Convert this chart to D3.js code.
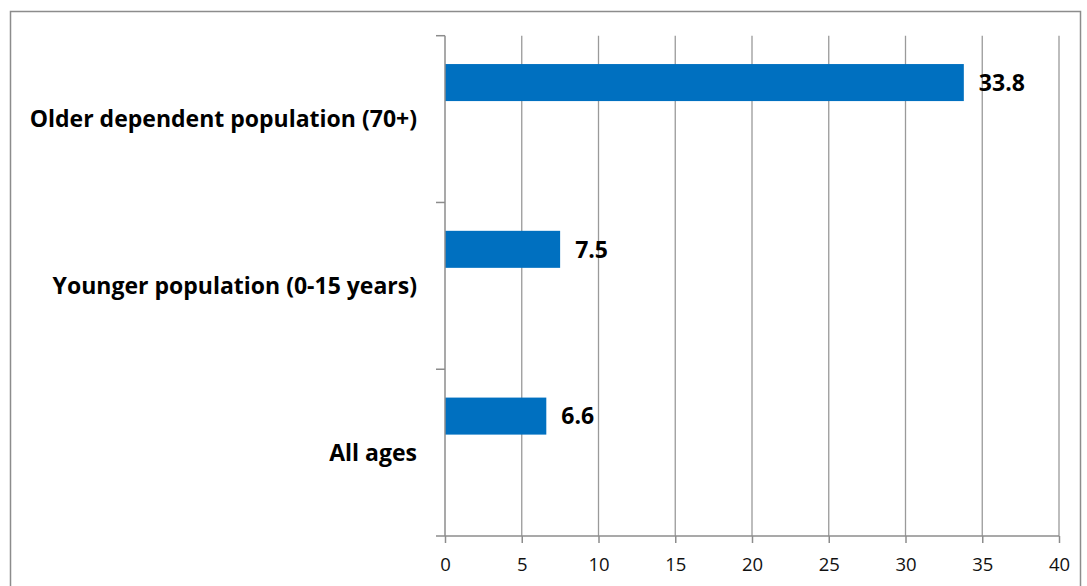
<!DOCTYPE html>
<html>
<head>
<meta charset="utf-8">
<script src="https://cdn.jsdelivr.net/npm/d3@7"></script>
<style>
  html, body { margin: 0; padding: 0; background: #fff; }
</style>
</head>
<body>
<div id="chart"></div>
<script>
// categories, top to bottom
var categories = ["Older dependent population (70+)", "Younger population (0-15 years)", "All ages"];
var values = [33.8, 7.5, 6.6];
var xTicks = [0, 5, 10, 15, 20, 25, 30, 35, 40];

var width = 1087,
    height = 586;

var svg = d3.select("#chart")
    .append("svg")
    .attr("width", width)
    .attr("height", height);

// outer frame
svg.append("rect")
    .attr("x", 10.5).attr("y", 11.5)
    .attr("width", 1070).attr("height", 600)
    .attr("fill", "none")
    .attr("stroke", "#8c8c8c")
    .attr("stroke-width", 1.5);

var plotLeft = 445, plotRight = 1059, plotTop = 35.7, plotBottom = 536;

var x = d3.scaleLinear().domain([0, 40]).range([plotLeft, plotRight]);
var y = d3.scaleBand().domain(categories).range([plotTop, plotBottom]).padding(0);

var g = svg.append("g");

// vertical grid lines
g.selectAll(".grid")
    .data(xTicks.slice(1))
    .enter().append("line")
    .attr("x1", function (d) { return x(d); })
    .attr("x2", function (d) { return x(d); })
    .attr("y1", plotTop).attr("y2", plotBottom)
    .attr("stroke", "#9a9a9a")
    .attr("stroke-width", 1.3);

// bars sit in the upper part of each band
var bw = y.bandwidth();
g.selectAll(".bar")
    .data(values)
    .enter().append("rect")
    .attr("x", x(0))
    .attr("y", function (d, i) { return y(categories[i]) + bw * 0.17; })
    .attr("width", function (d) { return x(d) - x(0); })
    .attr("height", bw * 0.222)
    .attr("fill", "#0070c0");

// value labels
g.selectAll(".val")
    .data(values)
    .enter().append("text")
    .attr("x", function (d) { return x(d) + 15; })
    .attr("y", function (d, i) { return y(categories[i]) + bw * 0.17 + bw * 0.111; })
    .attr("dy", "0.36em")
    .attr("font-family", "'Open Sans', sans-serif")
    .attr("font-weight", "bold")
    .attr("font-size", 23)
    .attr("fill", "#000")
    .text(function (d) { return d.toFixed(1); });

// x axis
var xAxis = d3.axisBottom(x).tickValues(xTicks).tickSize(7).tickPadding(15);
var xa = svg.append("g")
    .attr("transform", "translate(0," + plotBottom + ")")
    .call(xAxis);
xa.select(".domain").attr("stroke", "#8c8c8c").attr("stroke-width", 1.5)
    .attr("d", "M" + (plotLeft - 9) + ",0H" + plotRight);
xa.selectAll(".tick line").attr("stroke", "#8c8c8c").attr("stroke-width", 1.5);
xa.selectAll(".tick text")
    .attr("font-family", "'Open Sans', sans-serif")
    .attr("font-size", 18.5)
    .attr("fill", "#111");

// y axis with ticks on band boundaries
svg.append("line")
    .attr("x1", plotLeft).attr("x2", plotLeft)
    .attr("y1", plotTop).attr("y2", plotBottom)
    .attr("stroke", "#8c8c8c").attr("stroke-width", 1.5);
var bounds = categories.map(function (c) { return y(c); });
svg.selectAll(".ytick")
    .data(bounds)
    .enter().append("line")
    .attr("x1", plotLeft - 9).attr("x2", plotLeft)
    .attr("y1", function (d) { return d; })
    .attr("y2", function (d) { return d; })
    .attr("stroke", "#8c8c8c").attr("stroke-width", 1.5);

// category labels
svg.selectAll(".cat")
    .data(categories)
    .enter().append("text")
    .attr("x", 417)
    .attr("y", function (d) { return y(d) + bw / 2; })
    .attr("dy", "0.35em")
    .attr("text-anchor", "end")
    .attr("font-family", "'Open Sans', sans-serif")
    .attr("font-weight", "bold")
    .attr("font-size", 23)
    .attr("fill", "#000")
    .text(function (d) { return d; });
</script>
</body>
</html>
